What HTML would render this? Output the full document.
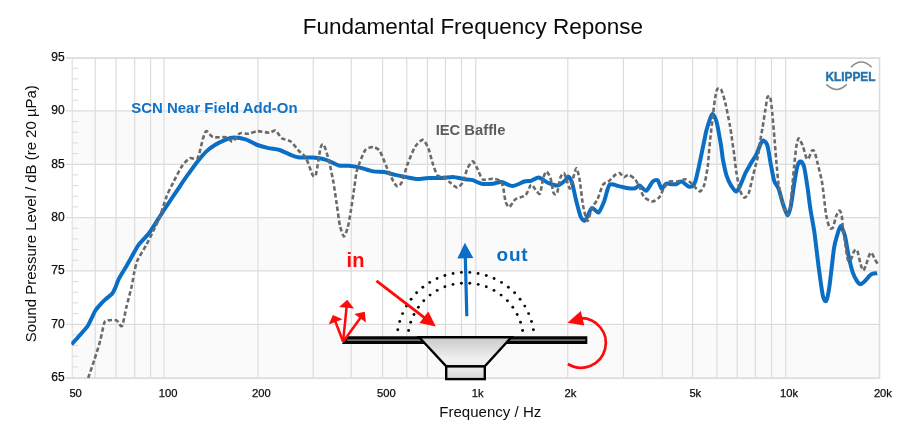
<!DOCTYPE html>
<html><head><meta charset="utf-8"><title>Fundamental Frequency Reponse</title>
<style>html,body{margin:0;padding:0;background:#fff}body{width:905px;height:429px;overflow:hidden}</style></head>
<body>
<svg width="905" height="429" viewBox="0 0 905 429" style="display:block;filter:blur(0.45px);font-family:'Liberation Sans',Arial,sans-serif">
<rect width="905" height="429" fill="#fff"/>
<rect x="72.2" y="110.9" width="807.3" height="53.3" fill="#fafafa"/>
<rect x="72.2" y="217.6" width="807.3" height="53.3" fill="#fafafa"/>
<rect x="72.2" y="324.3" width="807.3" height="53.3" fill="#fafafa"/>
<line x1="95.2" y1="57.6" x2="95.2" y2="377.6" stroke="#dadada" stroke-width="1.1"/>
<line x1="116.1" y1="57.6" x2="116.1" y2="377.6" stroke="#dadada" stroke-width="1.1"/>
<line x1="134.7" y1="57.6" x2="134.7" y2="377.6" stroke="#dadada" stroke-width="1.1"/>
<line x1="150.6" y1="57.6" x2="150.6" y2="377.6" stroke="#dadada" stroke-width="1.1"/>
<line x1="164.0" y1="57.6" x2="164.0" y2="377.6" stroke="#dadada" stroke-width="1.1"/>
<line x1="258.0" y1="57.6" x2="258.0" y2="377.6" stroke="#dadada" stroke-width="1.1"/>
<line x1="313.2" y1="57.6" x2="313.2" y2="377.6" stroke="#dadada" stroke-width="1.1"/>
<line x1="351.2" y1="57.6" x2="351.2" y2="377.6" stroke="#dadada" stroke-width="1.1"/>
<line x1="382.6" y1="57.6" x2="382.6" y2="377.6" stroke="#dadada" stroke-width="1.1"/>
<line x1="406.8" y1="57.6" x2="406.8" y2="377.6" stroke="#dadada" stroke-width="1.1"/>
<line x1="427.4" y1="57.6" x2="427.4" y2="377.6" stroke="#dadada" stroke-width="1.1"/>
<line x1="445.4" y1="57.6" x2="445.4" y2="377.6" stroke="#dadada" stroke-width="1.1"/>
<line x1="461.5" y1="57.6" x2="461.5" y2="377.6" stroke="#dadada" stroke-width="1.1"/>
<line x1="475.8" y1="57.6" x2="475.8" y2="377.6" stroke="#dadada" stroke-width="1.1"/>
<line x1="567.8" y1="57.6" x2="567.8" y2="377.6" stroke="#dadada" stroke-width="1.1"/>
<line x1="623.4" y1="57.6" x2="623.4" y2="377.6" stroke="#dadada" stroke-width="1.1"/>
<line x1="662.3" y1="57.6" x2="662.3" y2="377.6" stroke="#dadada" stroke-width="1.1"/>
<line x1="692.6" y1="57.6" x2="692.6" y2="377.6" stroke="#dadada" stroke-width="1.1"/>
<line x1="717.0" y1="57.6" x2="717.0" y2="377.6" stroke="#dadada" stroke-width="1.1"/>
<line x1="737.2" y1="57.6" x2="737.2" y2="377.6" stroke="#dadada" stroke-width="1.1"/>
<line x1="755.3" y1="57.6" x2="755.3" y2="377.6" stroke="#dadada" stroke-width="1.1"/>
<line x1="771.5" y1="57.6" x2="771.5" y2="377.6" stroke="#dadada" stroke-width="1.1"/>
<line x1="785.7" y1="57.6" x2="785.7" y2="377.6" stroke="#dadada" stroke-width="1.1"/>
<line x1="66.0" y1="110.9" x2="879.5" y2="110.9" stroke="#dcdcdc" stroke-width="1.2"/>
<line x1="66.0" y1="164.3" x2="879.5" y2="164.3" stroke="#dcdcdc" stroke-width="1.2"/>
<line x1="66.0" y1="217.6" x2="879.5" y2="217.6" stroke="#dcdcdc" stroke-width="1.2"/>
<line x1="66.0" y1="270.9" x2="879.5" y2="270.9" stroke="#dcdcdc" stroke-width="1.2"/>
<line x1="66.0" y1="324.3" x2="879.5" y2="324.3" stroke="#dcdcdc" stroke-width="1.2"/>
<line x1="72.2" y1="366.9" x2="78.2" y2="366.9" stroke="#dadada" stroke-width="1"/>
<line x1="72.2" y1="356.3" x2="78.2" y2="356.3" stroke="#dadada" stroke-width="1"/>
<line x1="72.2" y1="345.6" x2="78.2" y2="345.6" stroke="#dadada" stroke-width="1"/>
<line x1="72.2" y1="334.9" x2="78.2" y2="334.9" stroke="#dadada" stroke-width="1"/>
<line x1="72.2" y1="313.6" x2="78.2" y2="313.6" stroke="#dadada" stroke-width="1"/>
<line x1="72.2" y1="302.9" x2="78.2" y2="302.9" stroke="#dadada" stroke-width="1"/>
<line x1="72.2" y1="292.3" x2="78.2" y2="292.3" stroke="#dadada" stroke-width="1"/>
<line x1="72.2" y1="281.6" x2="78.2" y2="281.6" stroke="#dadada" stroke-width="1"/>
<line x1="72.2" y1="260.3" x2="78.2" y2="260.3" stroke="#dadada" stroke-width="1"/>
<line x1="72.2" y1="249.6" x2="78.2" y2="249.6" stroke="#dadada" stroke-width="1"/>
<line x1="72.2" y1="238.9" x2="78.2" y2="238.9" stroke="#dadada" stroke-width="1"/>
<line x1="72.2" y1="228.3" x2="78.2" y2="228.3" stroke="#dadada" stroke-width="1"/>
<line x1="72.2" y1="206.9" x2="78.2" y2="206.9" stroke="#dadada" stroke-width="1"/>
<line x1="72.2" y1="196.3" x2="78.2" y2="196.3" stroke="#dadada" stroke-width="1"/>
<line x1="72.2" y1="185.6" x2="78.2" y2="185.6" stroke="#dadada" stroke-width="1"/>
<line x1="72.2" y1="174.9" x2="78.2" y2="174.9" stroke="#dadada" stroke-width="1"/>
<line x1="72.2" y1="153.6" x2="78.2" y2="153.6" stroke="#dadada" stroke-width="1"/>
<line x1="72.2" y1="142.9" x2="78.2" y2="142.9" stroke="#dadada" stroke-width="1"/>
<line x1="72.2" y1="132.3" x2="78.2" y2="132.3" stroke="#dadada" stroke-width="1"/>
<line x1="72.2" y1="121.6" x2="78.2" y2="121.6" stroke="#dadada" stroke-width="1"/>
<line x1="72.2" y1="100.3" x2="78.2" y2="100.3" stroke="#dadada" stroke-width="1"/>
<line x1="72.2" y1="89.6" x2="78.2" y2="89.6" stroke="#dadada" stroke-width="1"/>
<line x1="72.2" y1="78.9" x2="78.2" y2="78.9" stroke="#dadada" stroke-width="1"/>
<line x1="72.2" y1="68.3" x2="78.2" y2="68.3" stroke="#dadada" stroke-width="1"/>
<path d="M66 58.1H879.5V378.1H66" fill="none" stroke="#dcdcdc" stroke-width="1.6"/>
<path d="M72.2 58.1V378.1" fill="none" stroke="#e0e0e0" stroke-width="1.2"/>
<text x="64.7" y="61.0" font-size="12" text-anchor="end" fill="#0c0c0c" stroke="#0c0c0c" stroke-width="0.25">95</text>
<text x="64.7" y="114.3" font-size="12" text-anchor="end" fill="#0c0c0c" stroke="#0c0c0c" stroke-width="0.25">90</text>
<text x="64.7" y="167.7" font-size="12" text-anchor="end" fill="#0c0c0c" stroke="#0c0c0c" stroke-width="0.25">85</text>
<text x="64.7" y="221.0" font-size="12" text-anchor="end" fill="#0c0c0c" stroke="#0c0c0c" stroke-width="0.25">80</text>
<text x="64.7" y="274.3" font-size="12" text-anchor="end" fill="#0c0c0c" stroke="#0c0c0c" stroke-width="0.25">75</text>
<text x="64.7" y="327.7" font-size="12" text-anchor="end" fill="#0c0c0c" stroke="#0c0c0c" stroke-width="0.25">70</text>
<text x="64.7" y="381.0" font-size="12" text-anchor="end" fill="#0c0c0c" stroke="#0c0c0c" stroke-width="0.25">65</text>
<text x="69.4" y="396.7" font-size="11.2" fill="#0c0c0c" stroke="#0c0c0c" stroke-width="0.25">50</text>
<text x="158.7" y="396.7" font-size="11.2" fill="#0c0c0c" stroke="#0c0c0c" stroke-width="0.25">100</text>
<text x="252.0" y="396.7" font-size="11.2" fill="#0c0c0c" stroke="#0c0c0c" stroke-width="0.25">200</text>
<text x="377.1" y="396.7" font-size="11.2" fill="#0c0c0c" stroke="#0c0c0c" stroke-width="0.25">500</text>
<text x="471.8" y="396.7" font-size="11.2" fill="#0c0c0c" stroke="#0c0c0c" stroke-width="0.25">1k</text>
<text x="564.6" y="396.7" font-size="11.2" fill="#0c0c0c" stroke="#0c0c0c" stroke-width="0.25">2k</text>
<text x="689.4" y="396.7" font-size="11.2" fill="#0c0c0c" stroke="#0c0c0c" stroke-width="0.25">5k</text>
<text x="780.0" y="396.7" font-size="11.2" fill="#0c0c0c" stroke="#0c0c0c" stroke-width="0.25">10k</text>
<text x="873.9" y="396.7" font-size="11.2" fill="#0c0c0c" stroke="#0c0c0c" stroke-width="0.25">20k</text>
<text x="490.3" y="416.5" font-size="15.05" text-anchor="middle" fill="#0c0c0c">Frequency / Hz</text>
<text transform="translate(36.2 213.7) rotate(-90)" font-size="14.95" text-anchor="middle" fill="#0c0c0c">Sound Pressure Level / dB (re 20 µPa)</text>
<text x="472.9" y="34.1" font-size="22.5" text-anchor="middle" fill="#0a0a0a">Fundamental Frequency Reponse</text>
<clipPath id="cp"><rect x="71.2" y="57.6" width="808.3" height="320.5"/></clipPath>
<g clip-path="url(#cp)">
<path d="M71.5 344.5C72.0 343.9 74.7 340.9 76.0 339.5C77.3 338.1 80.7 334.2 82.1 332.6C83.5 331.0 86.6 327.7 87.7 326.0C88.8 324.3 90.6 320.4 91.5 318.5C92.4 316.6 94.4 312.1 95.4 310.5C96.4 308.9 98.8 306.1 100.0 304.8C101.2 303.5 104.0 300.7 105.4 299.4C106.8 298.1 110.8 295.2 112.0 293.9C113.2 292.6 114.2 290.3 115.0 288.5C115.8 286.7 117.5 281.7 118.7 279.2C119.9 276.7 123.8 270.5 125.3 268.0C126.8 265.5 129.3 261.0 130.9 258.2C132.5 255.4 136.5 247.7 138.6 244.8C140.7 241.9 146.6 236.3 148.6 233.8C150.6 231.3 153.4 226.6 155.2 223.8C157.0 221.0 161.6 213.6 163.6 210.5C165.6 207.4 170.2 200.7 172.0 198.0C173.8 195.3 176.8 191.0 178.7 188.1C180.6 185.2 185.9 177.4 188.2 174.2C190.5 171.0 195.6 163.9 197.8 161.2C200.0 158.5 204.3 153.4 206.4 151.4C208.5 149.4 213.0 146.2 215.3 144.8C217.6 143.4 223.1 140.8 225.3 139.9C227.5 139.0 231.5 137.6 234.0 137.6C236.5 137.6 243.5 138.8 246.3 139.7C249.1 140.6 254.7 144.0 257.4 145.0C260.1 146.0 265.8 147.5 268.5 148.1C271.2 148.7 276.8 149.2 279.5 150.0C282.2 150.8 288.2 153.9 290.6 154.8C293.0 155.7 296.8 157.2 299.5 157.5C302.2 157.8 310.1 157.3 312.8 157.5C315.5 157.7 320.1 158.4 322.0 158.8C323.9 159.2 326.9 160.2 328.9 161.0C330.9 161.8 336.4 164.9 338.8 165.5C341.2 166.1 346.3 165.5 348.8 165.8C351.3 166.1 357.0 166.9 359.9 167.6C362.8 168.3 370.3 170.9 373.2 171.4C376.1 171.9 381.5 171.6 384.2 172.0C386.9 172.4 392.6 174.3 395.3 174.9C398.0 175.5 403.7 176.6 406.4 177.1C409.1 177.6 414.8 179.0 417.5 179.1C420.2 179.2 425.6 178.1 428.5 178.0C431.4 177.9 438.9 178.1 441.8 178.0C444.7 177.9 450.2 176.8 452.9 176.9C455.6 177.0 461.6 178.7 464.0 179.1C466.4 179.5 470.7 179.6 472.8 180.2C474.9 180.8 479.3 183.4 481.7 183.8C484.1 184.2 490.4 184.0 492.8 183.8C495.2 183.6 499.2 181.7 501.6 182.0C504.0 182.3 509.8 186.2 512.5 186.1C515.2 186.0 522.2 182.1 524.4 181.5C526.6 180.9 529.3 181.3 531.0 180.8C532.7 180.3 536.8 177.3 538.8 177.5C540.8 177.7 545.3 181.6 547.6 182.6C549.9 183.6 555.5 185.8 557.6 185.5C559.7 185.2 564.0 181.5 565.3 180.4C566.6 179.3 567.4 176.3 568.2 176.6C569.0 176.9 571.0 179.6 572.0 182.6C573.0 185.6 575.3 197.3 576.4 201.4C577.5 205.5 579.7 214.7 580.8 217.0C581.9 219.3 584.0 221.4 585.3 220.3C586.6 219.2 590.3 209.0 591.9 208.1C593.5 207.2 597.1 213.3 598.6 212.5C600.1 211.7 602.8 204.7 604.1 201.4C605.4 198.1 607.7 186.6 609.6 184.8C611.5 183.0 617.3 186.0 619.6 186.4C621.9 186.8 626.6 188.0 628.5 188.2C630.4 188.4 633.8 188.5 635.1 188.2C636.4 187.9 638.2 185.2 639.5 185.5C640.8 185.8 644.6 191.3 646.2 190.8C647.8 190.3 651.4 182.7 652.8 181.5C654.2 180.3 656.6 179.5 657.7 180.4C658.8 181.3 660.7 188.4 661.7 188.8C662.7 189.2 664.9 184.3 666.1 183.7C667.3 183.1 670.4 184.1 671.6 184.2C672.8 184.3 674.9 184.5 676.1 184.2C677.3 183.9 680.1 181.2 681.6 181.5C683.1 181.8 687.0 185.9 688.3 186.4C689.6 186.9 691.8 186.6 692.7 186.0C693.6 185.4 694.8 183.3 695.5 181.0C696.2 178.7 697.8 171.4 698.9 166.5C700.0 161.6 703.5 144.4 704.4 140.0C705.3 135.6 705.7 132.9 706.6 129.8C707.5 126.7 710.9 115.2 712.1 114.3C713.3 113.4 715.5 118.3 716.6 122.0C717.7 125.7 720.2 140.7 721.0 145.3C721.8 149.9 722.3 156.4 723.0 160.0C723.7 163.6 725.5 172.4 726.5 175.4C727.5 178.4 729.8 183.5 731.0 185.4C732.2 187.3 735.0 191.3 736.1 191.4C737.2 191.5 738.7 188.7 739.8 186.5C740.9 184.3 744.1 176.0 745.4 173.2C746.7 170.4 749.6 165.6 750.9 163.3C752.2 161.0 755.2 156.8 756.4 154.4C757.6 152.0 760.0 145.0 760.9 143.3C761.8 141.6 762.7 140.3 763.5 140.6C764.3 140.9 766.6 142.9 767.5 145.8C768.4 148.7 770.0 160.2 770.8 164.4C771.6 168.6 773.3 178.1 774.2 181.0C775.1 183.9 777.5 185.9 778.6 188.7C779.7 191.5 781.9 201.0 783.0 204.2C784.1 207.4 786.5 215.0 787.4 215.3C788.3 215.6 790.0 210.1 790.8 206.4C791.6 202.7 793.3 189.1 794.1 184.3C794.9 179.5 796.6 168.7 797.4 166.0C798.2 163.3 799.9 161.4 800.7 161.5C801.5 161.6 803.3 164.0 804.1 167.0C804.9 170.0 806.6 181.2 807.4 186.5C808.2 191.8 809.8 205.4 810.7 211.0C811.6 216.6 813.6 226.4 814.5 233.0C815.4 239.6 817.5 258.4 818.5 265.9C819.5 273.4 822.0 291.6 822.9 295.8C823.8 300.0 825.4 302.1 826.2 300.9C827.0 299.7 828.6 292.2 829.5 285.9C830.4 279.6 833.1 254.3 834.0 248.2C834.9 242.1 836.5 237.6 837.3 234.9C838.1 232.2 839.7 226.0 840.6 226.1C841.5 226.2 844.1 232.5 845.0 236.0C845.9 239.5 847.5 250.5 848.4 254.9C849.3 259.3 851.7 269.4 852.8 272.6C853.9 275.8 856.3 280.0 857.2 281.4C858.1 282.8 859.6 284.1 860.5 284.1C861.4 284.1 863.9 282.0 865.0 281.0C866.1 280.0 868.5 276.8 869.4 275.9C870.3 275.0 871.8 274.0 872.7 273.7C873.6 273.4 876.7 273.3 877.2 273.2" fill="none" stroke="#0a6ec4" stroke-width="4.0" stroke-linejoin="round" stroke-linecap="butt"/>
<path d="M88.2 378.0C88.9 375.9 92.7 364.8 94.2 360.3C95.7 355.8 99.1 344.9 100.3 340.4C101.5 335.9 103.4 325.1 104.3 322.7C105.2 320.3 106.1 320.7 107.6 320.4C109.1 320.1 114.8 319.7 116.5 320.4C118.2 321.1 120.8 327.6 122.0 326.0C123.2 324.4 125.2 312.0 126.4 307.1C127.6 302.2 131.1 289.2 132.0 285.0C132.9 280.8 133.5 275.5 134.2 272.5C134.9 269.5 136.0 263.6 137.5 260.3C139.0 257.0 144.5 248.3 146.4 244.8C148.3 241.3 151.4 234.8 153.0 231.5C154.6 228.2 158.1 221.2 159.7 217.1C161.3 213.0 164.7 201.4 166.3 197.2C167.9 193.0 171.3 186.3 173.2 182.5C175.1 178.7 180.1 168.8 182.1 165.9C184.1 163.0 187.9 159.1 189.8 158.2C191.7 157.3 196.0 160.6 197.6 158.2C199.2 155.8 202.0 141.5 203.1 138.2C204.2 134.9 205.2 131.2 206.4 131.1C207.6 131.0 210.7 136.4 213.1 137.1C215.5 137.8 223.7 136.8 226.0 137.3C228.3 137.8 230.9 142.1 232.6 141.6C234.3 141.1 238.0 134.2 239.9 133.3C241.8 132.4 246.4 134.1 248.5 133.8C250.6 133.5 254.9 131.2 257.4 131.1C259.9 131.0 267.4 132.8 269.6 132.7C271.8 132.6 274.0 129.8 275.5 130.5C277.0 131.2 279.9 136.9 281.7 138.2C283.5 139.5 288.5 139.9 290.6 141.5C292.7 143.1 297.6 149.5 299.5 151.5C301.4 153.5 304.5 155.3 306.1 158.2C307.7 161.1 311.6 173.5 312.8 175.4C314.0 177.3 315.2 177.0 316.1 173.7C317.0 170.4 319.6 151.7 320.5 148.2C321.4 144.7 322.8 143.5 323.8 144.9C324.8 146.3 327.5 155.3 328.6 159.5C329.7 163.7 332.0 174.8 333.0 180.0C334.0 185.2 335.8 197.8 336.6 203.2C337.4 208.6 339.0 221.4 339.9 225.4C340.8 229.4 343.0 236.1 343.9 236.4C344.8 236.7 346.8 230.8 347.7 227.6C348.6 224.4 350.2 214.7 351.0 209.9C351.8 205.1 353.6 192.2 354.3 187.7C355.0 183.2 355.8 175.3 356.5 172.2C357.2 169.1 358.8 164.8 359.9 162.1C361.0 159.4 363.8 151.7 365.4 149.9C367.0 148.1 371.5 146.9 373.2 147.0C374.9 147.1 378.2 148.7 379.8 151.0C381.4 153.3 384.8 162.9 386.4 166.5C388.0 170.1 391.8 178.5 393.1 180.9C394.4 183.3 396.4 186.3 397.5 186.4C398.6 186.5 400.7 184.7 401.9 182.0C403.1 179.3 405.9 168.5 407.5 164.3C409.1 160.1 413.3 149.5 415.2 146.6C417.1 143.7 421.4 139.6 423.0 139.9C424.6 140.2 427.3 145.9 428.5 148.8C429.7 151.7 431.9 161.1 433.0 164.3C434.1 167.5 436.1 173.9 437.4 175.4C438.7 176.9 442.4 176.2 444.0 177.1C445.6 178.0 449.1 181.8 450.7 183.1C452.3 184.4 455.8 187.7 457.3 187.6C458.8 187.5 461.7 184.3 462.9 182.0C464.1 179.7 466.1 171.2 467.3 168.7C468.5 166.2 471.6 161.4 472.8 161.4C474.0 161.4 476.1 166.5 477.3 168.7C478.5 170.9 480.9 178.2 482.8 179.4C484.7 180.6 490.7 178.5 492.8 178.7C494.9 178.9 499.2 179.8 500.5 180.9C501.8 182.0 502.7 185.7 503.3 188.2C503.9 190.7 504.8 199.1 505.5 201.4C506.2 203.7 508.1 207.3 509.3 207.0C510.5 206.7 513.6 200.6 515.5 199.2C517.4 197.8 523.6 196.9 525.5 195.2C527.4 193.5 529.8 185.5 531.0 184.8C532.2 184.1 534.3 188.2 535.4 189.3C536.5 190.4 539.0 195.0 539.9 193.7C540.8 192.4 542.4 180.9 543.2 178.2C544.0 175.5 545.6 171.5 546.5 171.5C547.4 171.5 549.6 175.6 550.5 178.2C551.4 180.8 552.8 191.2 553.6 193.0C554.4 194.8 556.3 194.8 557.1 193.0C557.9 191.2 559.4 180.6 560.2 178.2C561.0 175.8 563.1 173.0 563.8 173.1C564.5 173.2 565.7 177.4 566.4 179.3C567.1 181.2 569.0 188.7 569.8 188.6C570.6 188.5 572.3 180.6 573.1 178.2C573.9 175.8 575.6 167.9 576.4 168.2C577.2 168.5 578.9 175.9 579.7 180.4C580.5 184.9 582.2 201.0 583.1 205.9C584.0 210.8 586.4 220.6 587.5 220.9C588.6 221.2 590.7 210.7 591.9 208.1C593.1 205.5 596.2 202.0 597.5 199.2C598.8 196.4 601.7 186.9 603.0 184.8C604.3 182.7 607.0 182.7 608.5 181.5C610.0 180.3 613.9 175.9 615.2 174.9C616.5 173.9 618.5 172.8 619.6 173.1C620.7 173.4 622.9 176.9 624.0 177.1C625.1 177.3 627.2 174.6 628.5 174.9C629.8 175.2 633.8 177.8 635.1 179.3C636.4 180.8 638.4 184.9 639.5 187.0C640.6 189.1 642.4 195.3 644.0 197.0C645.6 198.7 650.9 201.4 652.8 201.4C654.7 201.4 658.2 198.6 659.5 197.0C660.8 195.4 662.7 190.1 663.9 188.2C665.1 186.3 667.8 182.3 669.4 181.5C671.0 180.7 675.3 181.8 677.2 181.5C679.1 181.2 683.3 179.2 684.9 179.3C686.5 179.4 689.4 181.7 690.5 182.6C691.6 183.5 693.3 185.4 694.4 186.5C695.5 187.6 698.8 191.7 700.0 191.4C701.2 191.1 703.5 187.3 704.4 184.3C705.3 181.3 707.0 171.7 707.7 166.6C708.4 161.5 709.1 149.6 709.9 142.0C710.7 134.4 713.6 109.4 714.4 103.2C715.2 97.0 716.1 92.3 716.6 90.5C717.1 88.7 718.0 88.5 718.6 88.4C719.2 88.3 720.5 88.0 721.3 89.8C722.1 91.6 724.4 98.9 725.4 103.2C726.4 107.5 729.1 121.0 729.9 125.4C730.7 129.8 731.6 136.4 732.1 140.0C732.6 143.6 733.8 151.5 734.3 155.5C734.8 159.5 735.8 169.1 736.5 173.2C737.2 177.3 738.9 186.9 739.8 189.8C740.7 192.7 743.2 197.2 744.3 197.6C745.4 198.0 747.8 195.3 748.7 193.2C749.6 191.1 751.2 183.1 752.0 179.9C752.8 176.7 754.6 169.5 755.3 166.6C756.0 163.7 757.4 159.2 758.0 156.0C758.6 152.8 759.9 143.4 760.4 140.0C760.9 136.6 761.9 131.6 762.5 128.0C763.1 124.4 764.7 113.6 765.3 109.9C765.9 106.2 766.9 99.1 767.3 97.5C767.7 95.9 768.4 96.3 768.8 96.3C769.2 96.3 770.0 95.3 770.4 97.5C770.8 99.7 771.9 109.2 772.4 114.3C772.9 119.4 774.1 134.3 774.6 140.0C775.1 145.7 775.9 156.8 776.4 162.1C776.9 167.4 777.9 179.8 778.6 184.3C779.3 188.8 781.0 196.2 781.9 199.8C782.8 203.4 785.4 212.9 786.3 214.2C787.2 215.5 789.0 213.7 789.7 210.9C790.4 208.1 791.4 196.2 791.9 190.9C792.4 185.6 793.6 171.9 794.1 166.6C794.6 161.3 795.8 150.0 796.3 146.6C796.8 143.2 798.0 139.2 798.5 138.5C799.0 137.8 800.0 140.0 800.5 141.0C801.0 142.0 802.3 144.5 803.0 146.5C803.7 148.5 805.6 156.1 806.3 157.6C807.0 159.1 807.8 159.4 808.5 158.6C809.2 157.8 811.1 151.7 811.8 150.8C812.5 149.9 813.8 150.1 814.5 151.5C815.2 152.9 816.5 159.0 817.4 162.5C818.3 166.0 821.0 176.8 821.8 181.0C822.6 185.2 823.5 193.5 824.0 197.6C824.5 201.7 825.5 211.7 826.2 215.3C826.9 218.9 828.7 226.0 829.5 227.5C830.3 229.0 832.1 228.9 832.9 227.5C833.7 226.1 835.4 218.0 836.2 216.0C837.0 214.0 838.8 210.6 839.5 210.5C840.2 210.4 841.3 213.3 841.7 215.3C842.1 217.3 842.4 223.8 842.8 227.0C843.2 230.2 844.4 237.7 845.0 241.6C845.6 245.5 847.0 257.0 847.7 259.3C848.4 261.6 849.9 261.3 850.6 260.4C851.3 259.5 853.1 252.7 853.9 251.5C854.7 250.3 856.4 248.9 857.2 250.4C858.0 251.9 859.8 261.3 860.5 263.7C861.2 266.1 862.5 270.3 863.2 270.4C863.9 270.5 865.4 266.7 866.1 264.8C866.8 262.9 868.7 256.4 869.4 254.9C870.1 253.4 870.9 252.2 871.6 252.7C872.3 253.2 874.1 257.8 874.9 259.3C875.7 260.8 877.9 264.1 878.3 264.8" fill="none" stroke="#6a6a6a" stroke-width="2.6" stroke-dasharray="4.4 2.5" stroke-linejoin="round"/>
</g>
<text x="131.3" y="113.3" font-size="14.95" font-weight="bold" fill="#0f72c4">SCN Near Field Add-On</text>
<text x="435.7" y="134.7" font-size="14.75" font-weight="bold" fill="#5c5c5c">IEC Baffle</text>
<text x="825.5" y="80.5" font-size="12.4" font-weight="bold" fill="#2474ad" stroke="#2474ad" stroke-width="0.45" textLength="50" lengthAdjust="spacingAndGlyphs">KLIPPEL</text>
<path d="M851 67.1Q861.3 57 871.5 67.1" fill="none" stroke="#8c8c8c" stroke-width="1.5"/>
<path d="M826.3 84.4Q836.6 94.5 846.8 84.4" fill="none" stroke="#8c8c8c" stroke-width="1.5"/>
<defs><linearGradient id="cg" x1="0" y1="0" x2="0" y2="1"><stop offset="0" stop-color="#c9c9c9"/><stop offset="0.75" stop-color="#f0f0f0"/><stop offset="1" stop-color="#ececec"/></linearGradient><linearGradient id="mg" x1="0" y1="0" x2="0" y2="1"><stop offset="0" stop-color="#eeeeee"/><stop offset="1" stop-color="#d2d2d2"/></linearGradient></defs>
<circle cx="461.4" cy="272.4" r="1.45" fill="#0a0a0a"/>
<circle cx="469.8" cy="272.4" r="1.45" fill="#0a0a0a"/>
<circle cx="453.1" cy="273.5" r="1.45" fill="#0a0a0a"/>
<circle cx="478.1" cy="273.5" r="1.45" fill="#0a0a0a"/>
<circle cx="444.9" cy="275.5" r="1.45" fill="#0a0a0a"/>
<circle cx="486.3" cy="275.5" r="1.45" fill="#0a0a0a"/>
<circle cx="437.1" cy="278.5" r="1.45" fill="#0a0a0a"/>
<circle cx="494.1" cy="278.5" r="1.45" fill="#0a0a0a"/>
<circle cx="429.7" cy="282.4" r="1.45" fill="#0a0a0a"/>
<circle cx="501.5" cy="282.4" r="1.45" fill="#0a0a0a"/>
<circle cx="422.8" cy="287.2" r="1.45" fill="#0a0a0a"/>
<circle cx="508.4" cy="287.2" r="1.45" fill="#0a0a0a"/>
<circle cx="416.6" cy="292.8" r="1.45" fill="#0a0a0a"/>
<circle cx="514.6" cy="292.8" r="1.45" fill="#0a0a0a"/>
<circle cx="411.1" cy="299.2" r="1.45" fill="#0a0a0a"/>
<circle cx="520.1" cy="299.2" r="1.45" fill="#0a0a0a"/>
<circle cx="406.4" cy="306.1" r="1.45" fill="#0a0a0a"/>
<circle cx="524.8" cy="306.1" r="1.45" fill="#0a0a0a"/>
<circle cx="402.6" cy="313.6" r="1.45" fill="#0a0a0a"/>
<circle cx="528.6" cy="313.6" r="1.45" fill="#0a0a0a"/>
<circle cx="399.7" cy="321.5" r="1.45" fill="#0a0a0a"/>
<circle cx="531.5" cy="321.5" r="1.45" fill="#0a0a0a"/>
<circle cx="397.8" cy="329.7" r="1.45" fill="#0a0a0a"/>
<circle cx="533.4" cy="329.7" r="1.45" fill="#0a0a0a"/>
<circle cx="461.4" cy="283.2" r="1.45" fill="#0a0a0a"/>
<circle cx="469.8" cy="283.2" r="1.45" fill="#0a0a0a"/>
<circle cx="453.0" cy="284.4" r="1.45" fill="#0a0a0a"/>
<circle cx="478.2" cy="284.4" r="1.45" fill="#0a0a0a"/>
<circle cx="444.9" cy="286.8" r="1.45" fill="#0a0a0a"/>
<circle cx="486.3" cy="286.8" r="1.45" fill="#0a0a0a"/>
<circle cx="437.2" cy="290.4" r="1.45" fill="#0a0a0a"/>
<circle cx="494.0" cy="290.4" r="1.45" fill="#0a0a0a"/>
<circle cx="430.1" cy="295.1" r="1.45" fill="#0a0a0a"/>
<circle cx="501.1" cy="295.1" r="1.45" fill="#0a0a0a"/>
<circle cx="423.8" cy="300.8" r="1.45" fill="#0a0a0a"/>
<circle cx="507.4" cy="300.8" r="1.45" fill="#0a0a0a"/>
<circle cx="418.4" cy="307.3" r="1.45" fill="#0a0a0a"/>
<circle cx="512.8" cy="307.3" r="1.45" fill="#0a0a0a"/>
<circle cx="414.0" cy="314.5" r="1.45" fill="#0a0a0a"/>
<circle cx="517.2" cy="314.5" r="1.45" fill="#0a0a0a"/>
<circle cx="410.7" cy="322.3" r="1.45" fill="#0a0a0a"/>
<circle cx="520.5" cy="322.3" r="1.45" fill="#0a0a0a"/>
<circle cx="408.6" cy="330.5" r="1.45" fill="#0a0a0a"/>
<circle cx="522.6" cy="330.5" r="1.45" fill="#0a0a0a"/>
<path d="M347.5 336.2H587.3V344.1H341.8Z" fill="#050505"/>
<path d="M347 340.1H585.3" fill="none" stroke="#6e6e6e" stroke-width="1.7"/>
<path d="M419.2 337.2H511.3L484.8 366.4H446.2Z" fill="url(#cg)" stroke="#000" stroke-width="2.4" stroke-linejoin="miter"/>
<rect x="446.2" y="366.4" width="38.6" height="12.7" fill="url(#mg)" stroke="#000" stroke-width="2.4"/>
<line x1="376.5" y1="280.9" x2="424.7" y2="317.9" stroke="#ff0a0a" stroke-width="2.8"/><path d="M435.8 326.4L419.5 323.0L428.3 311.5Z" fill="#ff0a0a"/>
<line x1="343.1" y1="341.7" x2="346.6" y2="306.8" stroke="#ff0a0a" stroke-width="2.5"/><path d="M347.3 299.8L354.0 308.5L339.0 307.0Z" fill="#ff0a0a"/>
<line x1="343.1" y1="341.7" x2="335.2" y2="321.0" stroke="#ff0a0a" stroke-width="2.5"/><path d="M332.9 314.9L342.5 319.3L328.7 324.5Z" fill="#ff0a0a"/>
<line x1="343.1" y1="341.7" x2="360.7" y2="317.4" stroke="#ff0a0a" stroke-width="2.5"/><path d="M364.8 311.7L365.9 322.4L354.3 314.0Z" fill="#ff0a0a"/>
<line x1="466.8" y1="316.3" x2="465.3" y2="257.2" stroke="#0a6ec4" stroke-width="3.2"/><path d="M464.9 242.7L473.3 258.0L457.3 258.4Z" fill="#0a6ec4"/>
<path d="M567.9 364.0A24.8 24.8 0 1 0 579.7 318.2" fill="none" stroke="#ff0a0a" stroke-width="2.7"/>
<path d="M567.5 322.8L580.8 311L584.3 325.6Z" fill="#ff0a0a"/>
<text x="346.6" y="266.6" font-size="20" font-weight="bold" fill="#ff0a0a">in</text>
<text x="496.6" y="261.3" font-size="19" font-weight="bold" letter-spacing="0.7" fill="#0a6ec4">out</text>
</svg>
</body></html>
